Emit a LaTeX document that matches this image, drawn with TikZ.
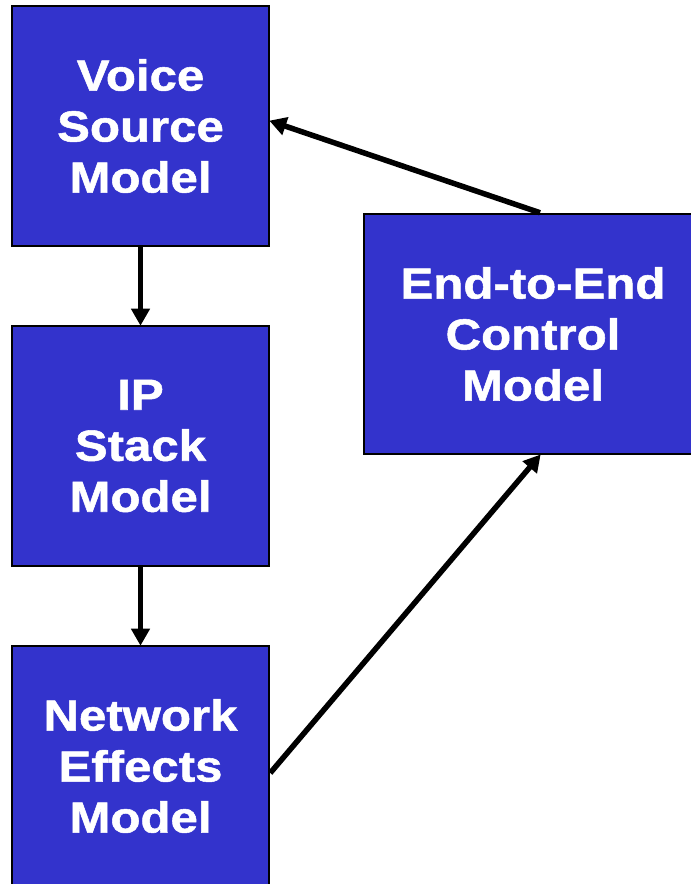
\documentclass[tikz,border=0pt]{standalone}
\usepackage{fontspec}
\newfontfamily\boxfont[FakeStretch=1.13,FakeBold=1.2]{Liberation Sans Bold}
\usetikzlibrary{arrows.meta}
\definecolor{boxblue}{RGB}{51,51,204}
\begin{document}
\begin{tikzpicture}[x=1pt,y=1pt,
  modelbox/.style={draw=black, line width=2.5pt, fill=boxblue, text=white,
    minimum width=257pt, minimum height=240pt, inner sep=0pt, align=center,
    font=\fontsize{43.5}{51}\selectfont\boxfont},
  flow/.style={line width=5.5pt, -{Triangle[length=17pt,width=18pt]}, shorten >=-1pt}]
\useasboundingbox (0,0) rectangle (691,884);
\node[modelbox] (voice) at (140.5,758) {Voice\\Source\\Model};
\node[modelbox] (ip) at (140.5,438) {IP\\Stack\\Model};
\node[modelbox] (net) at (140.5,118) {Network\\Effects\\Model};
\node[modelbox, minimum width=338pt] (e2e) at (533,550) {End-to-End\\Control\\Model};
\draw[flow] (voice.south) -- (ip.north);
\draw[flow] (ip.south) -- (net.north);
\draw[flow] ([xshift=7pt]e2e.north) -- ([yshift=5pt]voice.east);
\draw[flow] ([yshift=-7pt]net.east) -- ([xshift=7pt]e2e.south);
\end{tikzpicture}
\end{document}
